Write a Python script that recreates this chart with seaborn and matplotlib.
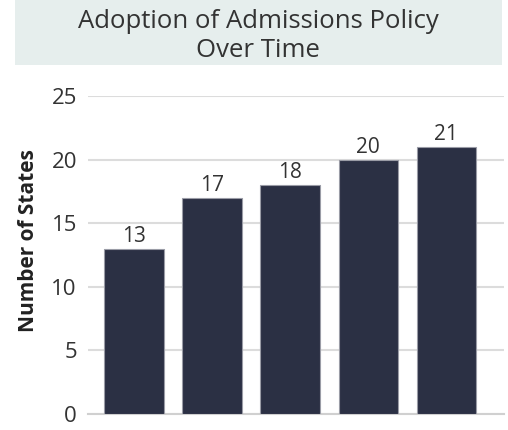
import matplotlib
matplotlib.use("Agg")
import matplotlib.pyplot as plt
import seaborn as sns
import pandas as pd
from matplotlib.patches import Rectangle

periods = ["P1", "P2", "P3", "P4", "P5"]
states = [13, 17, 18, 20, 21]
yticks = [0, 5, 10, 15, 20, 25]

title = "Adoption of Admissions Policy\nOver Time"
ylabel = "Number of States"

sns.set_style("white")
plt.rcParams["font.family"] = ["Open Sans", "DejaVu Sans"]

df = pd.DataFrame({"period": periods, "states": states})

fig = plt.figure(figsize=(5.08, 4.30), dpi=100)
ax = fig.add_axes([88/508, 1-414/430, (504-88)/508, (414-96)/430])

bar_color = "#2b3044"
sns.barplot(data=df, x="period", y="states", color=bar_color, width=0.76,
            edgecolor="#9a9ca6", linewidth=0.8, saturation=1, ax=ax, zorder=3)

ax.set_ylim(0, 25)
ax.set_xlim(-0.59, 4.74)
ax.set_yticks(yticks)
ax.set_yticklabels([str(t) for t in yticks], fontsize=16, color="#333333")
ax.set_xticks([])
ax.set_xlabel("")
ax.set_ylabel(ylabel, fontsize=15, fontweight="bold", color="#222222")
ax.yaxis.set_label_coords(-0.118, 0.544)
ax.tick_params(axis="y", length=0, pad=8)
ax.grid(axis="y", color="#dcdcdc", linewidth=1.5, zorder=0)
for s in ["top", "right", "left"]:
    ax.spines[s].set_visible(False)
ax.spines["bottom"].set_color("#d0d0d0")
ax.spines["bottom"].set_linewidth(1.5)

for i, v in enumerate(states):
    ax.text(i, v + 0.15, str(v), ha="center", va="bottom", fontsize=15, color="#333333")

fig.patches.append(Rectangle((15/508, 1-65/430), (502-15)/508, 65/430,
                             transform=fig.transFigure, facecolor="#e6eeed",
                             edgecolor="none", zorder=0))
fig.text(258/508, 1-36/430, title, ha="center", va="center", fontsize=18.5,
         color="#333333", linespacing=1.2)

fig.savefig("out.png", dpi=100)
